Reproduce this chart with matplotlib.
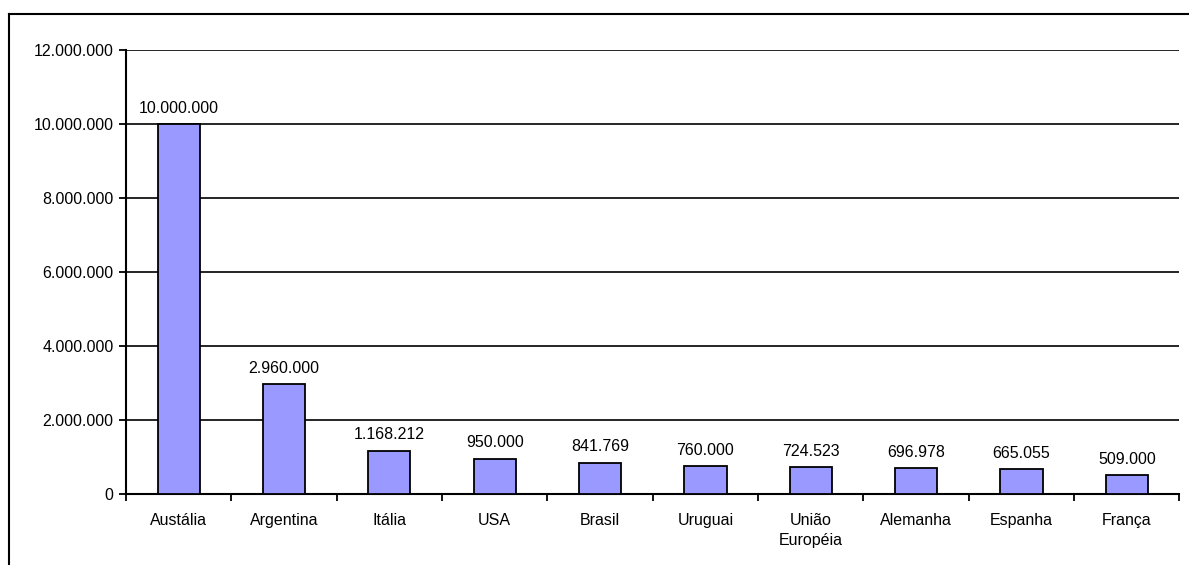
import numpy as np
import matplotlib.pyplot as plt
from matplotlib.lines import Line2D
from matplotlib.ticker import FuncFormatter, FixedLocator

plt.rcParams['font.family'] = ['Liberation Sans', 'DejaVu Sans']

countries = ['Austália', 'Argentina', 'Itália', 'USA', 'Brasil', 'Uruguai',
             'União\nEuropéia', 'Alemanha', 'Espanha', 'França']
values = [10000000, 2960000, 1168212, 950000, 841769, 760000,
          724523, 696978, 665055, 509000]
yticks = [0, 2000000, 4000000, 6000000, 8000000, 10000000, 12000000]


def br_fmt(v, pos=None):
    return f'{int(round(v)):,}'.replace(',', '.')


fig = plt.figure(figsize=(11.89, 5.65), dpi=100)
ax = fig.add_axes([0.106, 0.1257, 0.886, 0.786])

x = np.arange(len(countries))
bars = ax.bar(x, values, width=0.4, color='#9999FF', edgecolor='black',
              linewidth=1.3, zorder=3)

for b, v in zip(bars, values):
    ax.annotate(br_fmt(v), (b.get_x() + b.get_width() / 2, v),
                xytext=(0, 6), textcoords='offset points',
                ha='center', va='bottom', fontsize=11.5)

ax.set_xlim(-0.5, len(countries) - 0.5)
ax.set_ylim(0, 12000000)
ax.set_yticks(yticks)
ax.yaxis.set_major_formatter(FuncFormatter(br_fmt))
ax.yaxis.grid(True, color='black', linewidth=1.2, zorder=0)

ax.set_xticks(x)
ax.set_xticklabels(countries, fontsize=11.5, linespacing=1.4)
ax.xaxis.set_minor_locator(FixedLocator(np.arange(-0.5, len(countries), 1)))
ax.tick_params(axis='x', which='major', length=0, pad=14)
ax.tick_params(axis='x', which='minor', length=5, width=1.3, direction='out')
ax.tick_params(axis='y', length=5, width=1.3, direction='out', labelsize=11.5, pad=4)

for s in ['top', 'right']:
    ax.spines[s].set_visible(False)
for s in ['left', 'bottom']:
    ax.spines[s].set_linewidth(1.5)

# outer frame (only top and left edges fall inside the picture)
fig.add_artist(Line2D([9 / 1189, 1.0], [1 - 14 / 565, 1 - 14 / 565],
                      transform=fig.transFigure, color='black', linewidth=1.5))
fig.add_artist(Line2D([9 / 1189, 9 / 1189], [0, 1 - 14 / 565],
                      transform=fig.transFigure, color='black', linewidth=1.5))

fig.savefig('out.png', dpi=100)
